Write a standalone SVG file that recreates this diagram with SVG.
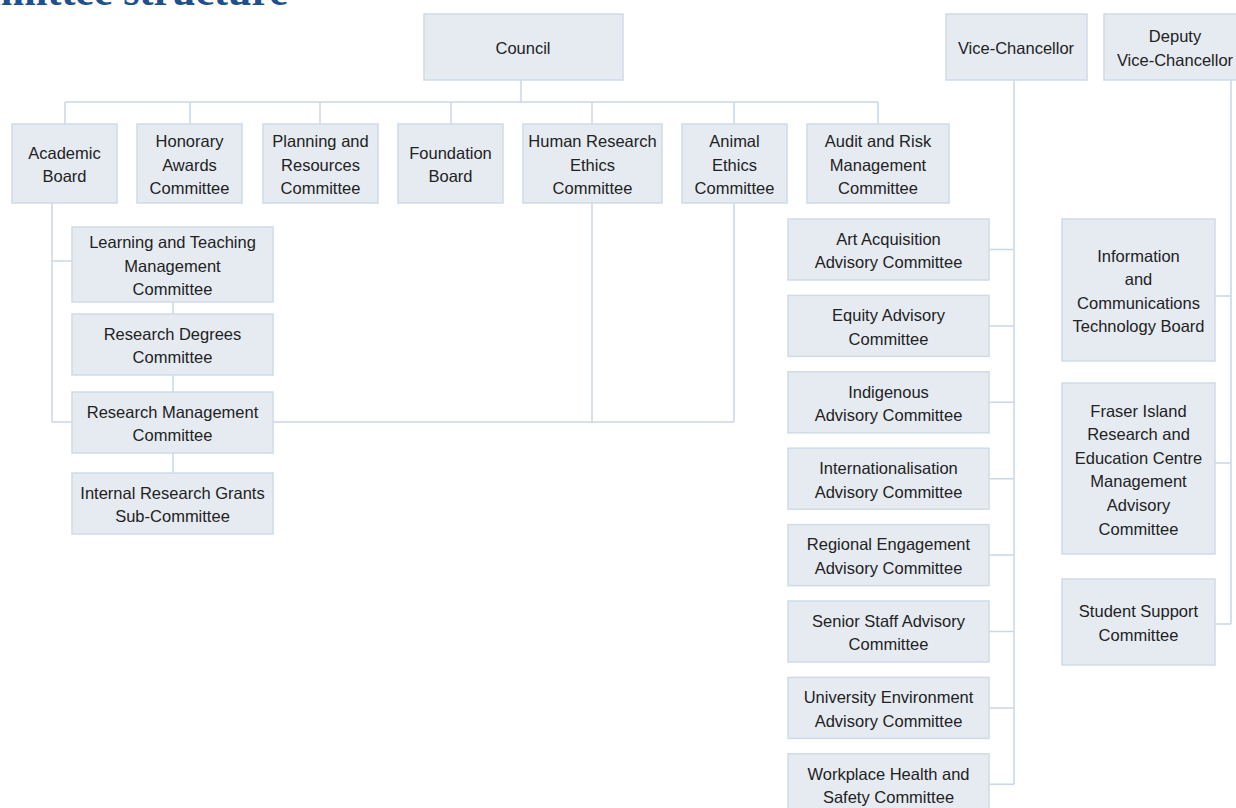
<svg xmlns="http://www.w3.org/2000/svg" width="1236" height="808" viewBox="0 0 1236 808">
<style>
.box{fill:#e6ebf2;stroke:#cfdbe8;stroke-width:1.5}
.t{font-family:"Liberation Sans",Arial,sans-serif;font-size:16.5px;fill:#222;text-anchor:middle}
.c{fill:none;stroke:#c9d7e6;stroke-width:1.5}
.title{font-family:"Liberation Serif","Times New Roman",serif;font-weight:bold;font-size:42px;fill:#1f4f8c;text-anchor:end}
</style>
<rect width="1236" height="808" fill="#fff"/>
<text class="title" x="288" y="5">Committee structure</text>
<g id="connectors" class="c">
<path d="M521 80V102M65 102H878M65 102V124M190 102V124M320 102V124M451 102V124M592 102V124M734 102V124M878 102V124"/>
<path d="M52 203V422M52 261H72M52 422H72M273 422H734M592 203V422M734 203V422"/>
<path d="M173 302V314M173 375V392M173 453V473"/>
<path d="M1014 80V784.3M989 249.5H1014M989 325.9H1014M989 402.3H1014M989 478.7H1014M989 555.1H1014M989 631.5H1014M989 707.9H1014M989 784.3H1014"/>
<path d="M1231 80V624M1215 296H1231M1215 463H1231M1215 624H1231"/>
</g>
<g id="council"><rect class="box" x="424" y="14" width="199" height="66"/><text class="t" x="523" y="54">Council</text></g>
<g id="vc"><rect class="box" x="946" y="14" width="141" height="66"/><text class="t" x="1016" y="54">Vice-Chancellor</text></g>
<g id="dvc"><rect class="box" x="1104" y="14" width="142" height="66"/><text class="t" x="1175"><tspan x="1175" y="42.2">Deputy</tspan><tspan x="1175" y="65.8">Vice-Chancellor</tspan></text></g>
<g id="academic-board"><rect class="box" x="12" y="124" width="105" height="79"/><text class="t"><tspan x="64.5" y="158.7">Academic</tspan><tspan x="64.5" y="182.3">Board</tspan></text></g>
<g id="honorary"><rect class="box" x="137" y="124" width="105" height="79"/><text class="t"><tspan x="189.5" y="147.1">Honorary</tspan><tspan x="189.5" y="170.5">Awards</tspan><tspan x="189.5" y="194.1">Committee</tspan></text></g>
<g id="planning"><rect class="box" x="263" y="124" width="115" height="79"/><text class="t"><tspan x="320.5" y="147.1">Planning and</tspan><tspan x="320.5" y="170.5">Resources</tspan><tspan x="320.5" y="194.1">Committee</tspan></text></g>
<g id="foundation"><rect class="box" x="398" y="124" width="105" height="79"/><text class="t"><tspan x="450.5" y="158.7">Foundation</tspan><tspan x="450.5" y="182.3">Board</tspan></text></g>
<g id="hrec"><rect class="box" x="523" y="124" width="139" height="79"/><text class="t"><tspan x="592.5" y="147.1">Human Research</tspan><tspan x="592.5" y="170.5">Ethics</tspan><tspan x="592.5" y="194.1">Committee</tspan></text></g>
<g id="animal"><rect class="box" x="682" y="124" width="105" height="79"/><text class="t"><tspan x="734.5" y="147.1">Animal</tspan><tspan x="734.5" y="170.5">Ethics</tspan><tspan x="734.5" y="194.1">Committee</tspan></text></g>
<g id="audit"><rect class="box" x="807" y="124" width="142" height="79"/><text class="t"><tspan x="878" y="147.1">Audit and Risk</tspan><tspan x="878" y="170.5">Management</tspan><tspan x="878" y="194.1">Committee</tspan></text></g>
<g id="ltmc"><rect class="box" x="72" y="227" width="201" height="75"/><text class="t"><tspan x="172.5" y="248">Learning and Teaching</tspan><tspan x="172.5" y="271.5">Management</tspan><tspan x="172.5" y="295.1">Committee</tspan></text></g>
<g id="rdc"><rect class="box" x="72" y="314" width="201" height="61"/><text class="t"><tspan x="172.5" y="339.7">Research Degrees</tspan><tspan x="172.5" y="363.3">Committee</tspan></text></g>
<g id="rmc"><rect class="box" x="72" y="392" width="201" height="61"/><text class="t"><tspan x="172.5" y="417.7">Research Management</tspan><tspan x="172.5" y="441.3">Committee</tspan></text></g>
<g id="irgs"><rect class="box" x="72" y="473" width="201" height="61"/><text class="t"><tspan x="172.5" y="498.7">Internal Research Grants</tspan><tspan x="172.5" y="522.3">Sub-Committee</tspan></text></g>
<g id="art"><rect class="box" x="788" y="219" width="201" height="61"/><text class="t"><tspan x="888.5" y="244.7">Art Acquisition</tspan><tspan x="888.5" y="268.3">Advisory Committee</tspan></text></g>
<g id="equity"><rect class="box" x="788" y="295.4" width="201" height="61"/><text class="t"><tspan x="888.5" y="321.1">Equity Advisory</tspan><tspan x="888.5" y="344.7">Committee</tspan></text></g>
<g id="indigenous"><rect class="box" x="788" y="371.8" width="201" height="61"/><text class="t"><tspan x="888.5" y="397.5">Indigenous</tspan><tspan x="888.5" y="421.1">Advisory Committee</tspan></text></g>
<g id="international"><rect class="box" x="788" y="448.2" width="201" height="61"/><text class="t"><tspan x="888.5" y="473.9">Internationalisation</tspan><tspan x="888.5" y="497.5">Advisory Committee</tspan></text></g>
<g id="regional"><rect class="box" x="788" y="524.6" width="201" height="61"/><text class="t"><tspan x="888.5" y="550.3">Regional Engagement</tspan><tspan x="888.5" y="573.9">Advisory Committee</tspan></text></g>
<g id="senior"><rect class="box" x="788" y="601" width="201" height="61"/><text class="t"><tspan x="888.5" y="626.7">Senior Staff Advisory</tspan><tspan x="888.5" y="650.3">Committee</tspan></text></g>
<g id="environment"><rect class="box" x="788" y="677.4" width="201" height="61"/><text class="t"><tspan x="888.5" y="703.1">University Environment</tspan><tspan x="888.5" y="726.7">Advisory Committee</tspan></text></g>
<g id="whs"><rect class="box" x="788" y="753.8" width="201" height="61"/><text class="t"><tspan x="888.5" y="779.5">Workplace Health and</tspan><tspan x="888.5" y="803.1">Safety Committee</tspan></text></g>
<g id="ict"><rect class="box" x="1062" y="219" width="153" height="142"/><text class="t"><tspan x="1138.5" y="261.6">Information</tspan><tspan x="1138.5" y="285.2">and</tspan><tspan x="1138.5" y="308.8">Communications</tspan><tspan x="1138.5" y="332.4">Technology Board</tspan></text></g>
<g id="fraser"><rect class="box" x="1062" y="383" width="153" height="171"/><text class="t"><tspan x="1138.5" y="416.5">Fraser Island</tspan><tspan x="1138.5" y="440.1">Research and</tspan><tspan x="1138.5" y="463.7">Education Centre</tspan><tspan x="1138.5" y="487.3">Management</tspan><tspan x="1138.5" y="510.9">Advisory</tspan><tspan x="1138.5" y="534.5">Committee</tspan></text></g>
<g id="student"><rect class="box" x="1062" y="579" width="153" height="86"/><text class="t"><tspan x="1138.5" y="617.2">Student Support</tspan><tspan x="1138.5" y="640.8">Committee</tspan></text></g>
</svg>
